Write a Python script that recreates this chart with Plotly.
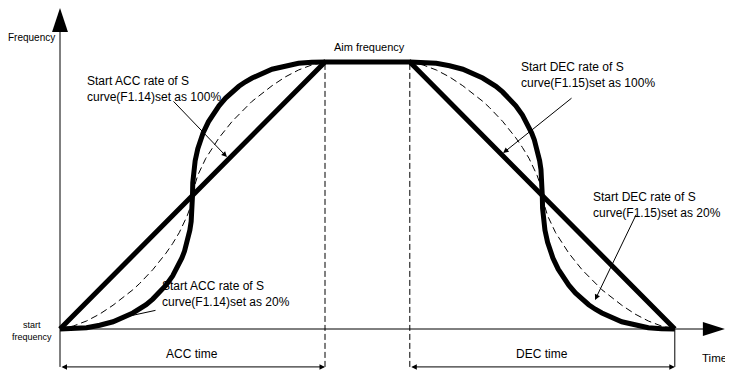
import plotly.graph_objects as go

# ---- data (time units, frequency in % of aim frequency) ----
acc_s_t = [0, 0.5, 1.0, 1.5, 2.0, 2.75, 3.0, 3.25, 3.5, 3.75, 4.0, 4.25, 4.4, 4.6, 4.7, 4.8, 4.9, 4.95, 4.975, 4.99, 5.0,
           5.01, 5.025, 5.05, 5.1, 5.2, 5.3, 5.4, 5.6, 5.75, 6.0, 6.25, 6.5, 6.75, 7.0, 7.25, 8.0, 8.5, 9.0, 9.5, 10.0]
acc_s_f = [0, 0.1, 0.5, 1.4, 2.7, 6.0, 7.4, 9.1, 11.2, 13.5, 16.4, 19.9, 22.4, 26.6, 29.2, 32.5, 37.0, 40.3, 42.9, 45.2, 50,
           54.8, 57.1, 59.7, 63.0, 67.5, 70.8, 73.4, 77.6, 80.1, 83.6, 86.5, 88.8, 90.9, 92.6, 94.0, 97.3, 98.6, 99.5, 99.9, 100]

dec_s_t = [13.2, 13.7, 14.2, 14.7, 15.2, 15.95, 16.2, 16.45, 16.7, 16.95, 17.2, 17.45, 17.6, 17.8, 17.9, 18.0, 18.1, 18.15,
           18.175, 18.19, 18.2, 18.21, 18.225, 18.25, 18.3, 18.4, 18.5, 18.6, 18.8, 18.95, 19.2, 19.45, 19.7, 19.95, 20.2,
           20.45, 21.2, 21.7, 22.2, 22.7, 23.2]
dec_s_f = [100, 99.9, 99.5, 98.6, 97.3, 94.0, 92.6, 90.9, 88.8, 86.5, 83.6, 80.1, 77.6, 73.4, 70.8, 67.5, 63.0, 59.7,
           57.1, 54.8, 50, 45.2, 42.9, 40.3, 37.0, 32.5, 29.2, 26.6, 22.4, 19.9, 16.4, 13.5, 11.2, 9.1, 7.4,
           6.0, 2.7, 1.4, 0.5, 0.1, 0]

acc_mid_t = [0, 0.5, 1.0, 1.5, 2.0, 2.75, 3.0, 3.5, 4.0, 4.25, 4.5, 4.8, 4.9, 4.975, 5.0,
             5.025, 5.1, 5.2, 5.5, 5.75, 6.0, 6.5, 7.0, 7.25, 8.0, 8.5, 9.0, 9.5, 10.0]
acc_mid_f = [0, 1.1, 3.0, 5.6, 8.9, 14.7, 17.0, 22.2, 28.4, 32.0, 36.1, 42.4, 45.2, 48.1, 50,
             51.9, 54.8, 57.6, 63.9, 68.0, 71.6, 77.8, 83.0, 85.3, 91.1, 94.4, 97.0, 98.9, 100]

dec_mid_t = [13.2, 13.7, 14.2, 14.7, 15.2, 15.95, 16.2, 16.7, 17.2, 17.45, 17.7, 18.0, 18.1, 18.175, 18.2,
             18.225, 18.3, 18.4, 18.7, 18.95, 19.2, 19.7, 20.2, 20.45, 21.2, 21.7, 22.2, 22.7, 23.2]
dec_mid_f = [100, 98.9, 97.0, 94.4, 91.1, 85.3, 83.0, 77.8, 71.6, 68.0, 63.9, 57.6, 54.8, 51.9, 50,
             48.1, 45.2, 42.4, 36.1, 32.0, 28.4, 22.2, 17.0, 14.7, 8.9, 5.6, 3.0, 1.1, 0]

linear_t = [0, 10, 13.2, 23.2]
linear_f = [0, 100, 100, 0]

acc_end = 10
dec_start = 13.2
dec_end = 23.2
aim = 100

FONT = "Liberation Sans, Arial, sans-serif"

fig = go.Figure()
thick = dict(color="black", width=5)
fig.add_trace(go.Scatter(x=linear_t, y=linear_f, mode="lines", line=thick, hoverinfo="skip"))
fig.add_trace(go.Scatter(x=acc_s_t, y=acc_s_f, mode="lines", line=thick, hoverinfo="skip"))
fig.add_trace(go.Scatter(x=dec_s_t, y=dec_s_f, mode="lines", line=thick, hoverinfo="skip"))
dashed = dict(color="black", width=1, dash="7px,4px")
fig.add_trace(go.Scatter(x=acc_mid_t, y=acc_mid_f, mode="lines", line=dashed, hoverinfo="skip"))
fig.add_trace(go.Scatter(x=dec_mid_t, y=dec_mid_f, mode="lines", line=dashed, hoverinfo="skip"))

base = -14.2
shapes = [
    # axes
    dict(type="line", x0=0, x1=24.3, y0=0, y1=0, line=dict(color="black", width=1)),
    dict(type="line", x0=0, x1=0, y0=base, y1=111.5, line=dict(color="black", width=1)),
    dict(type="path", path="M 24.26,2.6 L 25.09,0 L 24.26,-2.6 Z", fillcolor="black", line=dict(width=0)),
    dict(type="path", path="M -0.3,111.2 L 0,120.2 L 0.3,111.2 Z", fillcolor="black", line=dict(width=0)),
    # guides
    dict(type="line", x0=acc_end, x1=acc_end, y0=base, y1=aim, line=dict(color="black", width=1, dash="6px,3px")),
    dict(type="line", x0=dec_start, x1=dec_start, y0=base, y1=aim, line=dict(color="black", width=1, dash="6px,3px")),
    dict(type="line", x0=dec_end, x1=dec_end, y0=base, y1=0, line=dict(color="black", width=1)),
]

ann = []
def txt(x, y, s, size, xanchor="left", align="left"):
    ann.append(dict(x=x, y=y, text=s, showarrow=False, xanchor=xanchor, yanchor="middle", align=align,
                    borderpad=0, font=dict(family=FONT, size=size, color="black")))

def arrow(x, y, ax, ay, head=2, side="end"):
    ann.append(dict(x=x, y=y, ax=ax, ay=ay, xref="x", yref="y", axref="x", ayref="y", text="",
                    showarrow=True, arrowhead=head, arrowsize=1.1, arrowwidth=1, arrowcolor="black",
                    arrowside=side, standoff=0, startstandoff=0))

txt(-0.15, 109, "Frequency", 10, xanchor="right")
txt(10.3, 105.6, "Aim frequency", 11)
txt(0.98, 90.0, "Start ACC rate of S<br>curve(F1.14)set as 100%", 12)
txt(3.81, 13.1, "Start ACC rate of S<br>curve(F1.14)set as 20%", 12)
txt(17.36, 95.3, "Start DEC rate of S<br>curve(F1.15)set as 100%", 12)
txt(20.08, 46.4, "Start DEC rate of S<br>curve(F1.15)set as 20%", 12)
txt(-1.06, -0.6, "start<br>frequency", 9, xanchor="center", align="center")
txt(4.98, -9.4, "ACC time", 12, xanchor="center")
txt(18.2, -9.4, "DEC time", 12, xanchor="center")
txt(24.7, -10.9, "Time", 11.5, xanchor="center")

arrow(6.30, 64.4, 4.23, 85.8)
arrow(2.45, 4.5, 3.66, 7.1, head=0)
arrow(16.72, 65.9, 19.36, 86.9)
arrow(20.19, 10.9, 21.77, 43.4)
arrow(acc_end, base, 0, base, side="end+start")
arrow(dec_end, base, dec_start, base, side="end+start")

# page body has an 8px margin: the figure starts at page pixel (8, 8)
OFF = 8
fig.update_layout(
    width=733 - OFF, height=370 - OFF, margin=dict(l=0, r=0, t=0, b=0),
    paper_bgcolor="white", plot_bgcolor="white", showlegend=False,
    xaxis=dict(visible=False, range=[(OFF - 60) / 26.5, (733 - 60) / 26.5], fixedrange=True),
    yaxis=dict(visible=False, range=[(329 - 370) / 2.67, (329 - OFF) / 2.67], fixedrange=True),
    shapes=shapes, annotations=ann,
)

fig.write_html("out.html", config={"displayModeBar": False})
